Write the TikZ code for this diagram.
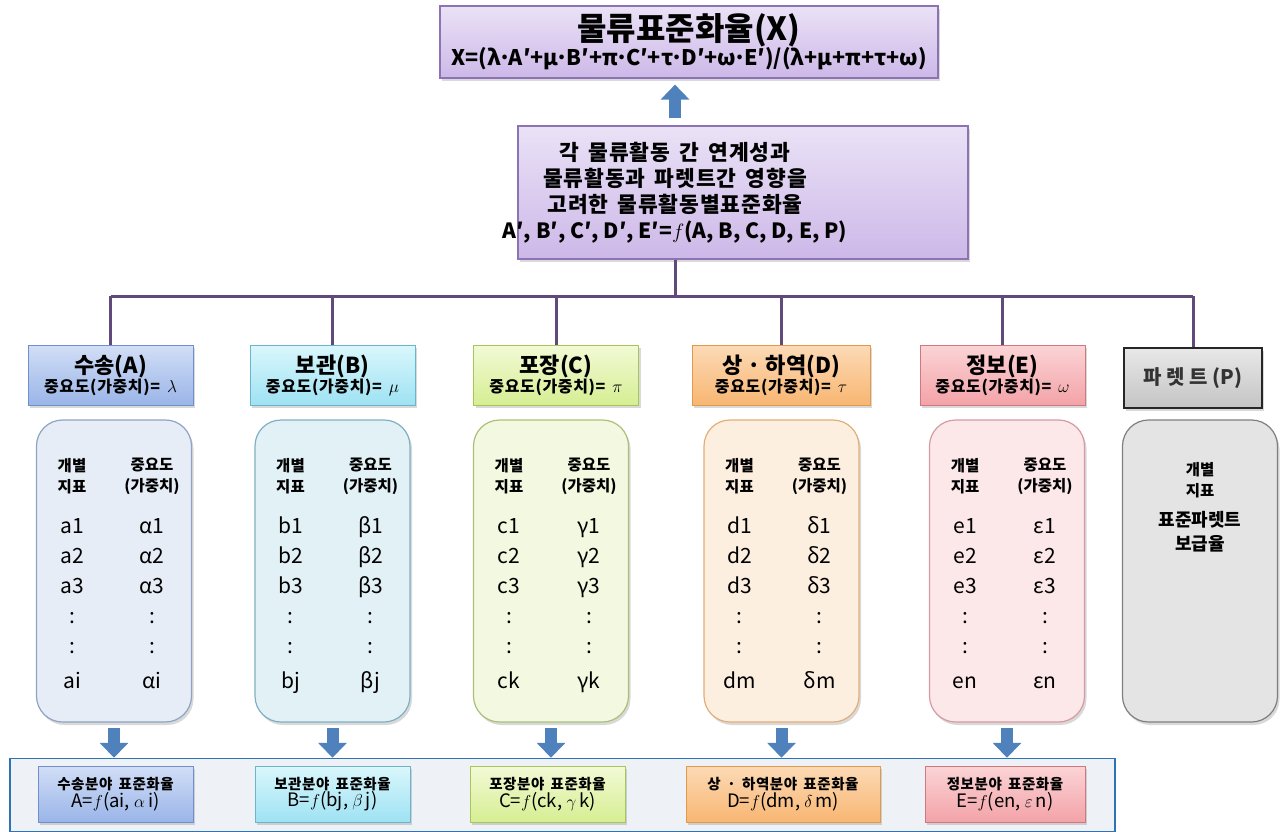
\documentclass[tikz,border=0pt]{standalone}
\usepackage{fontspec}
\setmainfont{Noto Sans CJK KR}
\newfontfamily\wfam{Noto Sans CJK KR}[LetterSpace=4,WordSpace=1.6]
\usetikzlibrary{shadows,arrows.meta}
\newcommand\fsz[2]{\fontsize{#1}{#2}\selectfont}
\newcommand\dt{\kern-2.5pt·\kern-2.5pt}
\definecolor{purpD}{HTML}{604A7B}
\definecolor{arrB}{HTML}{4F81BD}
\definecolor{pTop}{HTML}{EAE2F6}
\definecolor{pBot}{HTML}{CDB8E8}
\definecolor{pBrd}{HTML}{8C74B4}
\definecolor{aT}{HTML}{D2DEF6}\definecolor{aB}{HTML}{9AB5E8}\definecolor{aD}{HTML}{6F8FCF}
\definecolor{bT}{HTML}{DAF7FC}\definecolor{bB}{HTML}{9EE2F3}\definecolor{bD}{HTML}{6CB4CA}
\definecolor{cT}{HTML}{F2FAD6}\definecolor{cB}{HTML}{D6EE92}\definecolor{cD}{HTML}{A6C65C}
\definecolor{dT}{HTML}{FCDAB6}\definecolor{dB}{HTML}{F8B672}\definecolor{dD}{HTML}{E39A48}
\definecolor{eT}{HTML}{FBD4D6}\definecolor{eB}{HTML}{F3A3A8}\definecolor{eD}{HTML}{D07880}
\definecolor{gT}{HTML}{E8E8E8}\definecolor{gB}{HTML}{C4C4C4}
\definecolor{caF}{HTML}{E6EDF6}\definecolor{caD}{HTML}{8FA3C4}
\definecolor{cbF}{HTML}{E2F1F6}\definecolor{cbD}{HTML}{7FB0C2}
\definecolor{ccF}{HTML}{F3F9E0}\definecolor{ccD}{HTML}{AAC07A}
\definecolor{cdF}{HTML}{FDEFE0}\definecolor{cdD}{HTML}{E2AE78}
\definecolor{ceF}{HTML}{FCE7E9}\definecolor{ceD}{HTML}{D69AA2}
\definecolor{cpF}{HTML}{E4E4E4}\definecolor{cpD}{HTML}{7F7F7F}
\definecolor{botD}{HTML}{2E74B5}\definecolor{botF}{HTML}{EEF1F6}
\begin{document}
\begin{tikzpicture}[x=1pt,y=-1pt,
  shad/.style={drop shadow={opacity=0.3,shadow xshift=2pt,shadow yshift=-3pt}},
  pbox/.style={draw=pBrd,line width=1.2pt,top color=pTop,bottom color=pBot,shad,align=center,inner sep=0pt},
  hdr/.style={line width=1pt,minimum height=60pt,minimum width=165pt,align=center,inner sep=0pt,shad},
  colbox/.style={line width=1.2pt,rounded corners=26pt,minimum height=302pt,minimum width=155pt,shad},
  bbox/.style={line width=1pt,minimum height=56pt,minimum width=155pt,align=center,inner sep=0pt,shad},
  conn/.style={draw=purpD,line width=3pt},
  barrow/.style={draw=arrB,line width=12pt,-{Triangle[width=28pt,length=15pt]}},
  ctext/.style={font=\bfseries\fsz{15.5}{21},align=center,inner sep=0pt},
  dtext/.style={font=\fsz{21}{24},inner sep=0pt,anchor=base}
]
\useasboundingbox (0,0) rectangle (1282,832);

% top boxes
\node[pbox,minimum width=498pt,minimum height=72pt] (top) at (689,42)
  {{\bfseries\fsz{32}{33}물류표준화율(X)}\\[-1pt]{\bfseries\fsz{21.5}{22}X=(λ\dt A′+μ\dt B′+π\dt C′+τ\dt D′+ω\dt E′)/(λ+μ+π+τ+ω)}};
\node[pbox,minimum width=450pt,minimum height=133pt] (mid) at (743,192.5) {};
\node[font=\bfseries\fsz{20}{26},align=center,inner sep=0pt] (midT) at (675,193)
  {{\wfam\bfseries\fsz{21.5}{26}각 물류활동 간 연계성과}\\{\wfam\bfseries\fsz{21.5}{26}물류활동과 파렛트간 영향을}\\{\wfam\bfseries\fsz{21.5}{26}고려한 물류활동별표준화율}\\{\fsz{21}{26}A′, B′, C′, D′, E′=$f$(A, B, C, D, E, P)}};
\coordinate (ax) at (675,0);
\draw[barrow,shorten <=7pt,shorten >=6pt] (mid.north -| ax) -- (top.south -| ax);

% headers
\node[hdr,draw=aD,top color=aT,bottom color=aB] (hA) at (110.5,375)
  {{\bfseries\fsz{22}{25}수송(A)}\\{\wfam\bfseries\fsz{16}{17}중요도(가중치)= $\lambda$}};
\node[hdr,draw=bD,top color=bT,bottom color=bB] (hB) at (332.5,375)
  {{\bfseries\fsz{22}{25}보관(B)}\\{\wfam\bfseries\fsz{16}{17}중요도(가중치)= $\mu$}};
\node[hdr,draw=cD,top color=cT,bottom color=cB] (hC) at (556,375)
  {{\bfseries\fsz{22}{25}포장(C)}\\{\wfam\bfseries\fsz{16}{17}중요도(가중치)= $\pi$}};
\node[hdr,draw=dD,top color=dT,bottom color=dB,minimum width=178pt] (hD) at (781,375)
  {{\bfseries\fsz{22}{25}상 · 하역(D)}\\{\wfam\bfseries\fsz{16}{17}중요도(가중치)= $\tau$}};
\node[hdr,draw=eD,top color=eT,bottom color=eB] (hE) at (1002.5,375)
  {{\bfseries\fsz{22}{25}정보(E)}\\{\wfam\bfseries\fsz{16}{17}중요도(가중치)= $\omega$}};
\node[hdr,draw=black!85,line width=1.5pt,top color=gT,bottom color=gB,minimum width=138pt,font=\bfseries\fsz{20}{24},text=black!80] (hP) at (1193,378)
  {파 렛 트 (P)};

% connectors
\coordinate (bus) at (0,296);
\draw[conn] (mid.south -| ax) -- (ax |- bus);
\draw[conn] (hA.north |- bus) -- (hP.north |- bus);
\foreach \h in {hA,hB,hC,hD,hE,hP} \draw[conn] (\h.north |- bus) -- (\h.north);

% columns
\node[colbox,draw=caD,fill=caF] (cA) at (114,571) {};
\node[colbox,draw=cbD,fill=cbF] (cB) at (332.5,571) {};
\node[colbox,draw=ccD,fill=ccF] (cC) at (551,571) {};
\node[colbox,draw=cdD,fill=cdF] (cD) at (781.5,571) {};
\node[colbox,draw=ceD,fill=ceF] (cE) at (1007,571) {};
\node[colbox,draw=cpD,fill=cpF] (cP) at (1200,571) {};

\foreach \k/\cx/\a/\g/\la/\lg in {A/114/a/α/ai/αi,B/332.5/b/β/bj/βj,C/551/c/γ/ck/γk,D/781.5/d/δ/dm/δm,E/1007/e/ε/en/εn}{
  \node[ctext] (t1\k) at (\cx-42,476) {개별\\지표};
  \node[ctext] (t2\k) at (\cx+38,476) {중요도\\(가중치)};
  \node[dtext] (r1\k) at (\cx-42,533) {\a1};
  \node[dtext] (s1\k) at (\cx+38,533) {\g1};
  \node[dtext] (r2\k) at (\cx-42,563) {\a2};
  \node[dtext] (s2\k) at (\cx+38,563) {\g2};
  \node[dtext] (r3\k) at (\cx-42,593) {\a3};
  \node[dtext] (s3\k) at (\cx+38,593) {\g3};
  \node[dtext] (r4\k) at (\cx-42,623) {:};
  \node[dtext] (s4\k) at (\cx+38,623) {:};
  \node[dtext] (r5\k) at (\cx-42,653) {:};
  \node[dtext] (s5\k) at (\cx+38,653) {:};
  \node[dtext] (r6\k) at (\cx-42,688) {\la};
  \node[dtext] (s6\k) at (\cx+38,688) {\lg};
}
\node[ctext] (tP) at (1200,480) {개별\\지표};
\node[font=\bfseries\fsz{18}{24},align=center,inner sep=0pt] (vP) at (1200,532) {표준파렛트\\보급율};

% bottom
\node[draw=botD,line width=1.5pt,fill=botF,minimum width=1105pt,minimum height=73pt,inner sep=0pt] (bot) at (562.5,795) {};
\node[bbox,draw=aD,top color=aT,bottom color=aB] (bA) at (115.5,794)
  {{\wfam\bfseries\fsz{14.5}{19}수송분야 표준화율}\\{\fsz{18.5}{22}A=$f$(ai, $\alpha$\,i)}};
\node[bbox,draw=bD,top color=bT,bottom color=bB] (bB) at (332.5,794)
  {{\wfam\bfseries\fsz{14.5}{19}보관분야 표준화율}\\{\fsz{18.5}{22}B=$f$(bj, $\beta$\,j)}};
\node[bbox,draw=cD,top color=cT,bottom color=cB] (bC) at (547.5,794)
  {{\wfam\bfseries\fsz{14.5}{19}포장분야 표준화율}\\{\fsz{18.5}{22}C=$f$(ck, $\gamma$\,k)}};
\node[bbox,draw=dD,top color=dT,bottom color=dB,minimum width=194pt] (bD) at (783,794)
  {{\wfam\bfseries\fsz{14.5}{19}상 · 하역분야 표준화율}\\{\fsz{18.5}{22}D=$f$(dm, $\delta$\,m)}};
\node[bbox,draw=eD,top color=eT,bottom color=eB,minimum width=160pt] (bE) at (1005,794)
  {{\wfam\bfseries\fsz{14.5}{19}정보분야 표준화율}\\{\fsz{18.5}{22}E=$f$(en, $\varepsilon$\,n)}};

\foreach \c in {cA,cB,cC,cD,cE}
  \draw[barrow,shorten <=5pt] (\c.south) -- (\c.south |- bot.north);
\end{tikzpicture}
\end{document}
